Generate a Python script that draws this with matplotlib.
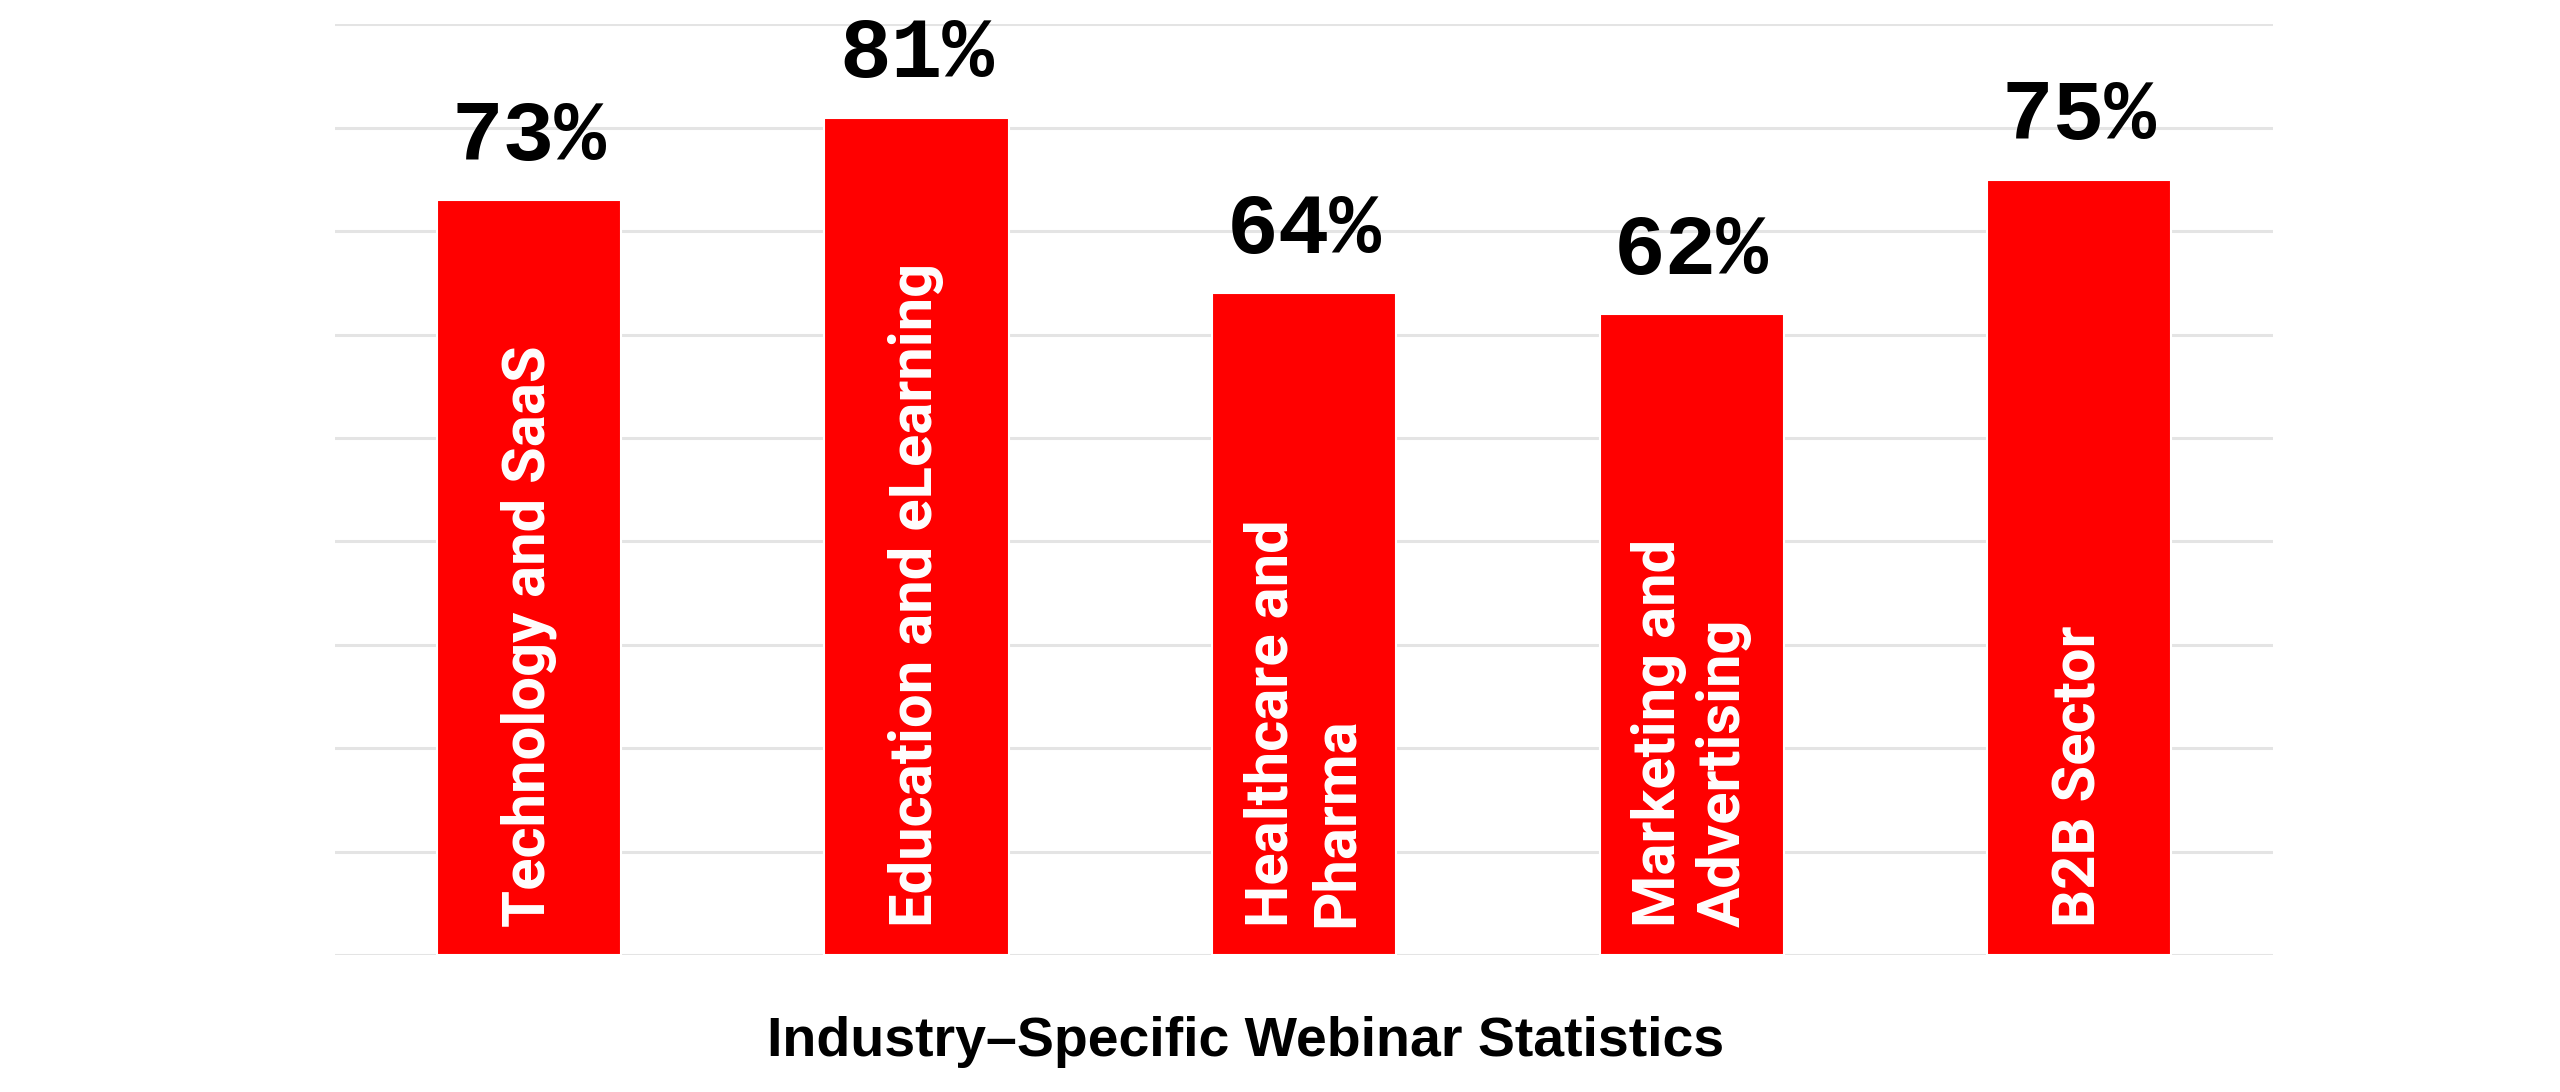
import matplotlib.pyplot as plt

# 数据
industries = ['Technology and SaaS', 'Education and eLearning', 'Healthcare and\nPharma',
              'Marketing and\nAdvertising', 'B2B Sector']
values = [73, 81, 64, 62, 75]
chart_title = 'Industry–Specific Webinar Statistics'

bar_color = '#ff0000'
grid_color = '#e4e4e4'

fig = plt.figure(figsize=(25.6, 10.92), dpi=100)
ax = fig.add_axes([0.1309, 0.1255, 0.757, 0.8521])

x = range(len(industries))
ax.bar(x, values, width=0.475, color=bar_color, edgecolor='white', linewidth=1.5, zorder=3)

ax.set_xlim(-0.5, len(industries) - 0.5)
ax.set_ylim(0, 90)
ax.set_yticks(range(0, 91, 10))
ax.yaxis.grid(True, color=grid_color, linewidth=2.2, zorder=0)
ax.set_axisbelow(True)
ax.tick_params(left=False, bottom=False, labelleft=False, labelbottom=False)
for s in ax.spines.values():
    s.set_visible(False)

# 柱内标签
for i, name in enumerate(industries):
    ax.annotate(name, xy=(i, 0), xytext=(0, 20), textcoords='offset points',
                rotation=90, ha='center', va='bottom', multialignment='left',
                color='white', fontsize=43, fontweight='bold', family=['Roboto', 'DejaVu Sans'],
                linespacing=1.2, zorder=4)

# 数值标签
for i, v in enumerate(values):
    ax.annotate('%d%%' % v, xy=(i, v), xytext=(0, 29), textcoords='offset points',
                ha='center', va='baseline', fontsize=62, fontweight='bold',
                family=['Liberation Mono', 'DejaVu Sans Mono'], color='black', zorder=4)

# 标题（在图下方，略偏左）
fig.text(0.4865, 0.033, chart_title, ha='center', va='baseline', fontsize=40,
         fontweight='bold', family=['Liberation Sans', 'DejaVu Sans'])

plt.savefig('out.png', dpi=100)
plt.close()
